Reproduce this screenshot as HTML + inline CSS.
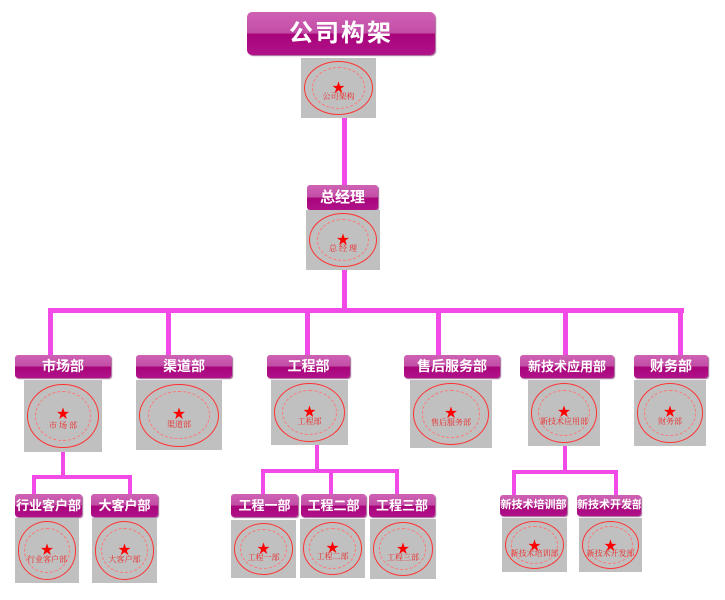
<!DOCTYPE html>
<html><head><meta charset="utf-8"><style>
body{margin:0;width:725px;height:600px;background:#fff;position:relative;overflow:hidden;font-family:"Liberation Sans","Noto Sans CJK SC",sans-serif}
div{position:absolute;box-sizing:border-box}
.ln{background:#f24ae6}
.l{background:linear-gradient(#cf62b5 0%,#c24ea6 48%,#a8047a 52%,#b0128a 100%);border-radius:3px;color:#fff;font-weight:bold;text-align:center;font-size:14px;box-shadow:1px 1px 1px #a06090;white-space:nowrap;overflow:hidden}
.s{background:#c0c0c0}
.s i{position:absolute;left:4%;top:5%;width:92%;height:90%;border:1.5px solid #f33;border-radius:50%;box-sizing:border-box}
.s i:after{content:"";position:absolute;left:10%;top:10%;width:80%;height:80%;border:1px dashed #f77;border-radius:50%;box-sizing:border-box}
.s b{position:absolute;left:0;right:0;top:38%;text-align:center;color:#f00;font-size:13px;line-height:13px}
.s em{position:absolute;left:0;right:0;top:55%;text-align:center;color:#e22;font-size:8px;font-style:normal;font-family:"Noto Serif CJK SC",serif}
</style></head><body>
<!-- lines -->
<div class="ln" style="left:342px;top:118px;width:5px;height:68px"></div>
<div class="ln" style="left:342px;top:270px;width:5px;height:40px"></div>
<div class="ln" style="left:48px;top:308px;width:636px;height:5px"></div>
<div class="ln" style="left:48px;top:308px;width:5px;height:48px"></div>
<div class="ln" style="left:166px;top:308px;width:5px;height:48px"></div>
<div class="ln" style="left:305px;top:308px;width:5px;height:48px"></div>
<div class="ln" style="left:436px;top:308px;width:5px;height:48px"></div>
<div class="ln" style="left:563px;top:308px;width:5px;height:48px"></div>
<div class="ln" style="left:678px;top:308px;width:5px;height:48px"></div>
<!-- 市场 children -->
<div class="ln" style="left:61px;top:452px;width:4px;height:27px"></div>
<div class="ln" style="left:32px;top:475px;width:100px;height:4px"></div>
<div class="ln" style="left:32px;top:475px;width:4px;height:20px"></div>
<div class="ln" style="left:128px;top:475px;width:4px;height:20px"></div>
<!-- 工程 children -->
<div class="ln" style="left:315px;top:445px;width:4px;height:27px"></div>
<div class="ln" style="left:261px;top:469px;width:138px;height:4px"></div>
<div class="ln" style="left:261px;top:469px;width:4px;height:26px"></div>
<div class="ln" style="left:329px;top:469px;width:4px;height:26px"></div>
<div class="ln" style="left:395px;top:469px;width:4px;height:26px"></div>
<!-- 新技术 children -->
<div class="ln" style="left:563px;top:446px;width:4px;height:26px"></div>
<div class="ln" style="left:512px;top:470px;width:106px;height:4px"></div>
<div class="ln" style="left:512px;top:470px;width:4px;height:26px"></div>
<div class="ln" style="left:614px;top:470px;width:4px;height:26px"></div>

<!-- title -->
<div class="l" style="left:247px;top:12px;width:188px;height:43px;font-size:24px;line-height:43px;border-radius:5px;letter-spacing:2px">公司构架</div>
<div class="s" style="left:301px;top:58px;width:75px;height:60px"><i></i><b>★</b><em>公司架构</em></div>

<div class="l" style="left:307px;top:185px;width:71px;height:25px;line-height:25px;font-size:15px">总经理</div>
<div class="s" style="left:306px;top:210px;width:74px;height:60px"><i></i><b>★</b><em>总 经 理</em></div>

<div class="l" style="left:15px;top:355px;width:96px;height:23px;line-height:23px">市场部</div>
<div class="s" style="left:24px;top:380px;width:78px;height:72px"><i></i><b>★</b><em>市 场 部</em></div>
<div class="l" style="left:136px;top:355px;width:96px;height:23px;line-height:23px">渠道部</div>
<div class="s" style="left:136px;top:380px;width:86px;height:70px"><i></i><b>★</b><em>渠道部</em></div>
<div class="l" style="left:267px;top:355px;width:83px;height:23px;line-height:23px">工程部</div>
<div class="s" style="left:271px;top:380px;width:77px;height:65px"><i></i><b>★</b><em>工程部</em></div>
<div class="l" style="left:404px;top:355px;width:96px;height:23px;line-height:23px">售后服务部</div>
<div class="s" style="left:410px;top:380px;width:82px;height:68px"><i></i><b>★</b><em>售后服务部</em></div>
<div class="l" style="left:520px;top:355px;width:94px;height:23px;line-height:23px;font-size:13px">新技术应用部</div>
<div class="s" style="left:528px;top:380px;width:72px;height:66px"><i></i><b>★</b><em>新技术应用部</em></div>
<div class="l" style="left:634px;top:355px;width:74px;height:23px;line-height:23px">财务部</div>
<div class="s" style="left:634px;top:380px;width:72px;height:66px"><i></i><b>★</b><em>财务部</em></div>

<div class="l" style="left:15px;top:494px;width:67px;height:23px;line-height:23px;font-size:13px">行业客户部</div>
<div class="s" style="left:15px;top:518px;width:64px;height:65px"><i></i><b>★</b><em>行业客户部</em></div>
<div class="l" style="left:91px;top:494px;width:67px;height:23px;line-height:23px;font-size:13px">大客户部</div>
<div class="s" style="left:92px;top:518px;width:65px;height:65px"><i></i><b>★</b><em>大客户部</em></div>

<div class="l" style="left:231px;top:494px;width:67px;height:23px;line-height:23px;font-size:13px">工程一部</div>
<div class="s" style="left:231px;top:520px;width:65px;height:58px"><i></i><b>★</b><em>工程一部</em></div>
<div class="l" style="left:301px;top:494px;width:65px;height:23px;line-height:23px;font-size:13px">工程二部</div>
<div class="s" style="left:300px;top:519px;width:65px;height:59px"><i></i><b>★</b><em>工程二部</em></div>
<div class="l" style="left:369px;top:494px;width:66px;height:23px;line-height:23px;font-size:13px">工程三部</div>
<div class="s" style="left:370px;top:519px;width:66px;height:60px"><i></i><b>★</b><em>工程三部</em></div>

<div class="l" style="left:500px;top:495px;width:67px;height:21px;line-height:21px;font-size:11px">新技术培训部</div>
<div class="s" style="left:502px;top:518px;width:65px;height:54px"><i></i><b>★</b><em>新技术培训部</em></div>
<div class="l" style="left:577px;top:495px;width:64px;height:21px;line-height:21px;font-size:11px">新技术开发部</div>
<div class="s" style="left:579px;top:518px;width:63px;height:54px"><i></i><b>★</b><em>新技术开发部</em></div>
</body></html>
